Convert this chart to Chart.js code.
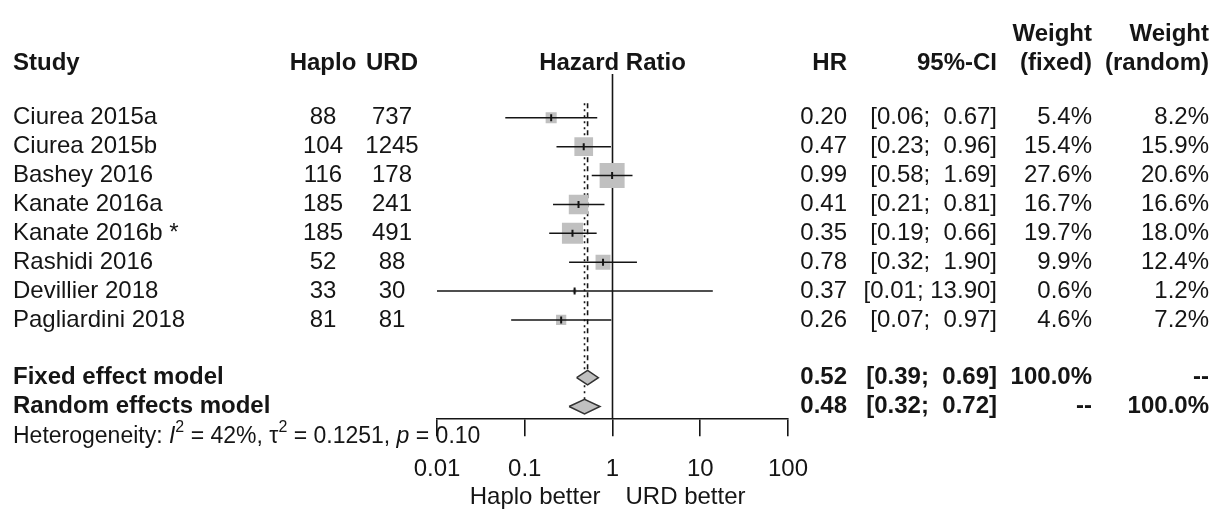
<!DOCTYPE html>
<html><head><meta charset="utf-8">
<script src="https://cdn.jsdelivr.net/npm/chart.js@4"></script>
<style>html,body{margin:0;padding:0;background:#fff}#c{display:block}</style>
</head><body>
<canvas id="c" width="1230" height="511"></canvas>
<script>
// ---- data ----
const studies = ["Ciurea 2015a","Ciurea 2015b","Bashey 2016","Kanate 2016a","Kanate 2016b *","Rashidi 2016","Devillier 2018","Pagliardini 2018"];
const haplo = [88,104,116,185,185,52,33,81];
const urd = [737,1245,178,241,491,88,30,81];
const hr = [0.20,0.47,0.99,0.41,0.35,0.78,0.37,0.26];
const ciLow = [0.06,0.23,0.58,0.21,0.19,0.32,0.01,0.07];
const ciHigh = [0.67,0.96,1.69,0.81,0.66,1.90,13.90,0.97];
const weightFixed = [5.4,15.4,27.6,16.7,19.7,9.9,0.6,4.6];
const weightRandom = [8.2,15.9,20.6,16.6,18.0,12.4,1.2,7.2];
const summaryLabels = ["Fixed effect model","Random effects model"];
const summaryHR = [0.52,0.48];
const summaryLow = [0.39,0.32];
const summaryHigh = [0.69,0.72];
const summaryWFixed = ["100.0%","--"];
const summaryWRandom = ["--","100.0%"];
const xTicks = [0.01,0.1,1,10,100];
const xTickLabels = ["0.01","0.1","1","10","100"];

// ---- layout ----
const FONT = '"Liberation Sans", Arial, Helvetica, sans-serif';
const INK = '#151515';
const N = studies.length;
const summaryRows = [9, 10];
const DH = 0.2525; // diamond half height (rows)

const datasets = [];
datasets.push({data: hr.map((v,i)=>({x:v,y:i})), pointStyle:'line', rotation:90, pointRadius:3.5,
  borderColor:INK, borderWidth:2, backgroundColor:INK, showLine:false, order:0});
summaryHR.forEach((v,k)=>{
  const r = summaryRows[k];
  datasets.push({data:[{x:summaryLow[k],y:r},{x:v,y:r-DH},{x:summaryHigh[k],y:r},{x:v,y:r+DH},{x:summaryLow[k],y:r}],
    showLine:true, fill:'shape', backgroundColor:'#c0c0c0', borderColor:'#333', borderWidth:1.5, pointRadius:0, tension:0, order:0});
});
for (let i=0;i<N;i++){
  datasets.push({data:[{x:ciLow[i],y:i},{x:ciHigh[i],y:i}], showLine:true, borderColor:INK, borderWidth:1.6, pointRadius:0, order:1});
}
datasets.push({data: hr.map((v,i)=>({x:v,y:i})), pointStyle:'rect',
  pointRadius: weightFixed.map(w=>25*Math.sqrt(w/27.6)/Math.SQRT2), backgroundColor:'#c0c0c0', borderWidth:0, showLine:false, order:2});
datasets.push({data:[{x:1,y:-1.52},{x:1,y:10.438}], showLine:true, borderColor:INK, borderWidth:1.6, pointRadius:0, order:3});
datasets.push({data:[{x:summaryHR[1],y:-0.505},{x:summaryHR[1],y:summaryRows[1]-DH}], showLine:true, borderColor:INK, borderWidth:1.6, borderDash:[2,4], pointRadius:0, order:3});
datasets.push({data:[{x:summaryHR[0],y:-0.505},{x:summaryHR[0],y:summaryRows[0]-DH}], showLine:true, borderColor:INK, borderWidth:1.6, borderDash:[5,4], pointRadius:0, order:3});

function txt(ctx, s, x, y, align, bold, size, italic){
  ctx.font = (italic?'italic ':'') + (bold?'bold ':'') + (size||24) + 'px ' + FONT;
  ctx.textAlign = align; ctx.textBaseline = 'middle'; ctx.fillStyle = INK;
  ctx.fillText(s, x, y);
  return ctx.measureText(s).width;
}
function ciText(lo, hi){
  const h = hi.toFixed(2);
  return '[' + lo.toFixed(2) + ';' + (h.length < 5 ? '  ' : ' ') + h + ']';
}

const tablePlugin = {
  id:'table',
  afterDraw(chart){
    const ctx = chart.ctx, ys = chart.scales.y, xs = chart.scales.x;
    ctx.save();
    const X = {study:13, haplo:323, urd:392, hr:847, ci:997, wf:1092, wr:1209};
    const hy = ys.getPixelForValue(-1.89), wy = ys.getPixelForValue(-2.89);
    txt(ctx,'Study',X.study,hy,'left',true);
    txt(ctx,'Haplo',X.haplo,hy,'center',true);
    txt(ctx,'URD',X.urd,hy,'center',true);
    txt(ctx,'Hazard Ratio',xs.getPixelForValue(1),hy,'center',true);
    txt(ctx,'HR',X.hr,hy,'right',true);
    txt(ctx,'95%-CI',X.ci,hy,'right',true);
    txt(ctx,'Weight',X.wf,wy,'right',true);
    txt(ctx,'(fixed)',X.wf,hy,'right',true);
    txt(ctx,'Weight',X.wr,wy,'right',true);
    txt(ctx,'(random)',X.wr,hy,'right',true);
    for (let i=0;i<N;i++){
      const y = ys.getPixelForValue(i);
      txt(ctx,studies[i],X.study,y,'left');
      txt(ctx,String(haplo[i]),X.haplo,y,'center');
      txt(ctx,String(urd[i]),X.urd,y,'center');
      txt(ctx,hr[i].toFixed(2),X.hr,y,'right');
      txt(ctx,ciText(ciLow[i],ciHigh[i]),X.ci,y,'right');
      txt(ctx,weightFixed[i].toFixed(1)+'%',X.wf,y,'right');
      txt(ctx,weightRandom[i].toFixed(1)+'%',X.wr,y,'right');
    }
    for (let k=0;k<2;k++){
      const y = ys.getPixelForValue(summaryRows[k]);
      txt(ctx,summaryLabels[k],X.study,y,'left',true);
      txt(ctx,summaryHR[k].toFixed(2),X.hr,y,'right',true);
      txt(ctx,ciText(summaryLow[k],summaryHigh[k]),X.ci,y,'right',true);
      txt(ctx,summaryWFixed[k],X.wf,y,'right',true);
      txt(ctx,summaryWRandom[k],X.wr,y,'right',true);
    }
    const hgY = ys.getPixelForValue(11.04);
    let x = X.study; const fs = 23, ss = 16;
    x += txt(ctx,'Heterogeneity: ',x,hgY,'left',false,fs);
    x += txt(ctx,'I',x,hgY,'left',false,fs,true);
    x += txt(ctx,'2',x,hgY-9,'left',false,ss);
    x += txt(ctx,' = 42%, ',x,hgY,'left',false,fs);
    x += txt(ctx,'\u03c4',x,hgY,'left',false,fs);
    x += txt(ctx,'2',x,hgY-9,'left',false,ss);
    x += txt(ctx,' = 0.1251, ',x,hgY,'left',false,fs);
    x += txt(ctx,'p',x,hgY,'left',false,fs,true);
    txt(ctx,' = 0.10',x,hgY,'left',false,fs);
    const x1 = xs.getPixelForValue(1);
    txt(ctx,'Haplo better',x1-12,497,'right');
    txt(ctx,'URD better',x1+13,497,'left');
    ctx.restore();
  }
};

new Chart(document.getElementById('c'), {
  type:'scatter',
  data:{datasets},
  options:{
    responsive:false, animation:false, devicePixelRatio:1,
    layout:{padding:{left:437,right:442,top:5,bottom:8}},
    plugins:{legend:{display:false}, tooltip:{enabled:false}},
    scales:{
      x:{type:'logarithmic', min:0.01, max:100,
        afterBuildTicks:(axis)=>{axis.ticks = xTicks.map(v=>({value:v}));},
        ticks:{callback:(v,i)=>xTickLabels[i], font:{size:24, family:FONT}, color:INK, padding:19, autoSkip:false, maxRotation:0},
        grid:{display:true, drawOnChartArea:false, drawTicks:true, tickLength:17, color:INK, lineWidth:1.6},
        border:{display:true, color:INK, width:1.6}},
      y:{type:'linear', reverse:true, min:-3.468, max:10.438, display:false}
    }
  },
  plugins:[tablePlugin]
});
</script>
</body></html>
